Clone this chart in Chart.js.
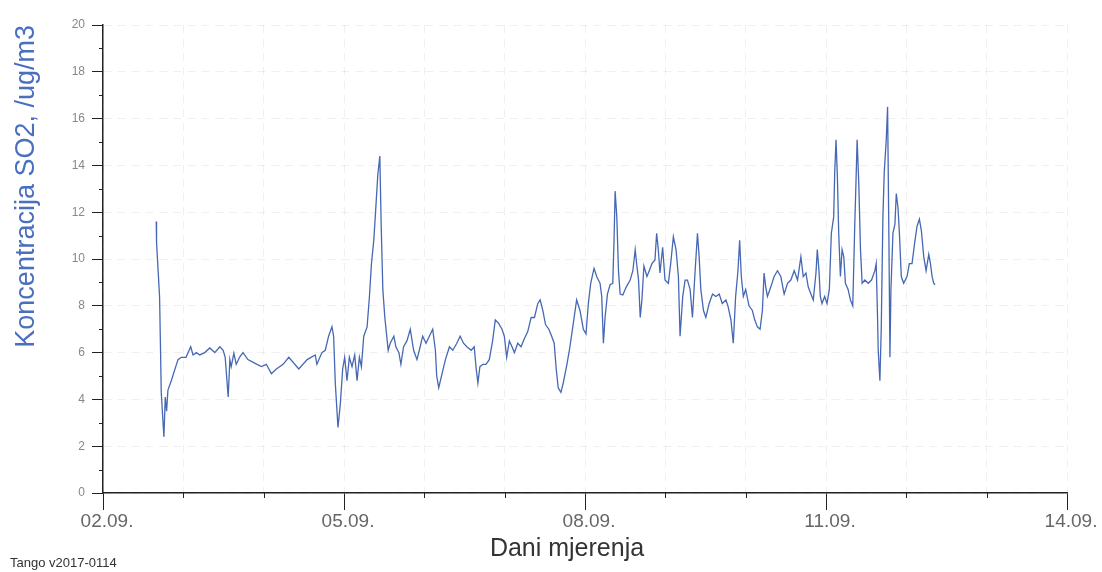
<!DOCTYPE html>
<html>
<head>
<meta charset="utf-8">
<script src="https://cdn.jsdelivr.net/npm/chart.js@4.4.1/dist/chart.umd.min.js"></script>
<style>
  html, body { margin: 0; padding: 0; background: #fff; }
  #wrap { position: relative; width: 1102px; height: 572px; }
  #tango { position: absolute; left: 10px; top: 555px; font: 13px 'Liberation Sans', Arial, sans-serif; color: #333; }
</style>
</head>
<body>
<div id="wrap">
  <canvas id="c" width="1102" height="572"></canvas>
  <div id="tango">Tango v2017-0114</div>
</div>
<script>
// Koncentracija SO2 (µg/m3), satni niz — vrijeme u satima od 02.09. 00:00
const hours = [
  15.9,16.0,16.9,17.2,17.4,17.9,18.2,18.6,19.0,19.4,20.4,22.4,23.4,24.8,26.2,26.9,27.9,28.9,30.4,31.9,
  33.4,34.9,35.9,36.5,37.4,37.9,38.3,39.1,39.8,40.8,41.8,43.3,45.3,47.3,48.8,50.3,51.8,53.8,
  55.5,58.5,61.0,63.4,63.9,65.4,66.4,67.4,68.4,68.9,69.4,70.2,70.9,71.6,72.2,72.9,73.6,74.4,75.2,75.9,
  76.6,77.2,77.9,78.9,79.6,80.2,80.9,81.4,82.1,82.7,83.1,83.6,84.2,85.2,85.8,86.9,87.5,88.4,89.0,89.8,
  90.8,91.8,92.8,93.8,
  94.5,95.5,96.5,97.5,98.5,99.3,99.7,100.3,101.3,102.3,103.5,104.5,105.7,106.7,107.7,108.7,110.0,110.9,
  111.5,112.0,112.6,113.5,114.4,115.4,116.4,117.2,118.2,119.2,119.9,120.6,121.4,122.2,122.9,123.9,124.9,
  125.9,126.9,127.9,128.9,129.9,130.6,131.4,132.2,133.2,133.9,
  134.8,135.4,136.0,136.8,137.5,138.6,139.5,140.5,141.5,142.5,143.5,144.3,145.0,145.7,146.7,147.5,148.5,
  149.0,149.5,150.0,150.7,151.5,152.3,152.7,153.0,153.5,154.0,154.5,155.3,156.3,157.5,158.3,159.0,159.5,
  160.0,160.5,161.0,161.6,162.5,163.2,164.0,164.9,165.4,165.9,166.4,167.2,167.9,168.9,169.6,170.4,171.2,
  171.9,172.4,173.2,173.9,
  174.6,175.4,176.1,176.8,177.6,178.1,178.6,179.4,180.1,181.1,182.1,183.1,184.1,185.0,186.1,186.7,187.6,
  188.3,189.0,189.7,190.2,190.7,191.3,192.0,193.0,194.0,194.7,195.5,196.3,197.0,197.5,198.0,198.5,199.5,
  200.5,201.5,202.5,203.5,204.5,205.5,206.5,207.5,208.5,209.2,210.0,210.7,211.5,212.2,213.0,213.4,213.9,
  214.3,214.8,215.6,216.3,217.0,217.6,218.3,218.6,219.0,219.4,219.8,220.3,220.8,221.3,221.8,222.6,223.3,
  224.0,224.6,225.0,225.3,225.8,226.3,226.8,227.6,228.6,229.6,230.6,231.0,231.4,231.6,232.1,232.5,233.0,
  233.4,234.0,234.4,234.8,235.1,235.4,236.0,236.6,237.0,237.5,237.9,238.5,239.2,240.2,240.9,241.7,242.5,
  243.2,243.9,244.5,245.2,245.9,246.7,247.2,247.7,248.2,248.6
];
const so2 = [
  11.6,10.7,8.4,6.0,4.3,3.1,2.4,4.1,3.5,4.4,4.8,5.7,5.8,5.8,6.25,5.9,6.0,5.9,6.0,6.2,
  6.0,6.25,6.1,5.8,4.1,5.7,5.4,5.97,5.5,5.8,6.0,5.7,5.55,5.4,5.5,5.1,5.3,5.5,
  5.8,5.3,5.7,5.9,5.5,6.0,6.1,6.7,7.1,6.7,4.7,2.8,3.8,5.3,5.8,4.8,5.8,5.4,5.9,4.8,
  5.8,5.4,6.7,7.1,8.4,9.8,10.8,11.95,13.6,14.4,11.5,8.7,7.5,6.1,6.4,6.7,6.25,6.0,5.5,6.25,
  6.5,7.0,6.1,5.7,
  6.1,6.7,6.4,6.7,7.0,6.1,5.0,4.5,5.1,5.7,6.25,6.1,6.4,6.7,6.4,6.25,6.1,6.25,
  5.3,4.7,5.4,5.5,5.5,5.7,6.5,7.4,7.25,7.0,6.7,5.8,6.5,6.25,6.0,6.4,6.25,
  6.6,6.9,7.5,7.5,8.1,8.25,7.8,7.2,7.0,6.75,
  6.4,5.3,4.5,4.3,4.7,5.5,6.25,7.25,8.25,7.8,7.0,6.8,8.1,8.96,9.6,9.25,8.96,
  8.4,6.4,7.5,8.5,8.9,8.96,10.95,12.9,11.8,9.5,8.5,8.46,8.8,9.1,9.5,10.4,9.7,
  9.1,7.5,8.25,9.7,9.25,9.5,9.8,9.96,11.1,10.4,9.4,10.5,9.1,8.96,9.8,10.95,10.4,
  9.25,6.7,8.4,9.1,
  9.1,8.7,7.5,9.25,11.1,10.1,8.7,7.8,7.5,8.1,8.5,8.4,8.5,8.1,8.25,8.0,7.4,
  6.4,8.4,9.5,10.8,9.25,8.4,8.7,8.0,7.8,7.4,7.1,7.0,7.8,9.4,8.8,8.4,8.8,
  9.25,9.5,9.25,8.5,8.96,9.1,9.5,9.1,10.1,9.25,9.4,8.8,8.5,8.25,9.4,10.4,9.5,
  8.4,8.1,8.4,8.1,8.7,11.1,11.8,13.7,15.1,13.5,11.1,9.25,10.4,10.1,8.96,8.7,8.25,
  8.0,11.5,13.5,15.1,13.2,10.4,8.96,9.1,8.96,9.1,9.5,9.8,7.5,6.1,4.8,7.0,11.8,
  13.7,15.1,16.5,10.8,5.8,8.7,11.1,11.5,12.8,12.2,11.2,9.25,8.96,9.25,9.8,9.8,10.7,
  11.4,11.7,11.2,10.1,9.5,10.2,9.8,9.25,8.96,8.9
];

// Os X: dani (svakih 24 h), natpis svaki treći dan
const dayTicks = [0, 24, 48, 72, 96, 120, 144, 168, 192, 216, 240, 264, 288];
const labelTicks = [0, 72, 144, 216, 288];
const dayLabels = ['02.09.', '05.09.', '08.09.', '11.09.', '14.09.'];
// Os Y: glavne oznake svake 2 jedinice, sporedne na neparnim vrijednostima
const yMinorTicks = [1, 3, 5, 7, 9, 11, 13, 15, 17, 19];

const FONT = "'Liberation Sans', Arial, sans-serif";
const AXIS = '#222';
const GRID = 'rgba(0,0,0,0.06)';

Chart.defaults.font.family = FONT;

// sporedne oznake na osima + naslov osi X
const extras = {
  id: 'extras',
  afterDraw(chart) {
    const { ctx, scales: { x, y } } = chart;
    ctx.save();
    ctx.strokeStyle = AXIS;
    ctx.lineWidth = 1;
    yMinorTicks.forEach((v) => {
      const py = Math.round(y.getPixelForValue(v)) + 0.5;
      ctx.beginPath(); ctx.moveTo(x.left - 4, py); ctx.lineTo(x.left, py); ctx.stroke();
    });
    dayTicks.filter((d) => !labelTicks.includes(d)).forEach((d) => {
      const px = Math.round(x.getPixelForValue(d)) + 0.5;
      ctx.beginPath(); ctx.moveTo(px, y.bottom); ctx.lineTo(px, y.bottom + 5); ctx.stroke();
    });
    ctx.fillStyle = '#333';
    ctx.font = '25px ' + FONT;
    ctx.textAlign = 'center';
    ctx.textBaseline = 'middle';
    ctx.fillText('Dani mjerenja', (x.left + x.right) / 2 - 18, 549);
    ctx.restore();
  },
};

new Chart(document.getElementById('c'), {
  type: 'line',
  data: {
    datasets: [{
      data: hours.map((h, i) => ({ x: h, y: so2[i] })),
      borderColor: '#4668b4',
      borderWidth: 1.3,
      pointRadius: 0,
      tension: 0,
      fill: false,
    }],
  },
  options: {
    responsive: false,
    animation: false,
    devicePixelRatio: 1,
    layout: { padding: { left: 0, top: 25, right: 35, bottom: 0 } },
    plugins: { legend: { display: false }, tooltip: { enabled: false } },
    scales: {
      x: {
        type: 'linear', min: 0, max: 288,
        afterFit: (s) => { s.height = 79; },
        afterBuildTicks: (s) => { s.ticks = dayTicks.map((v) => ({ value: v })); },
        ticks: {
          autoSkip: false, maxRotation: 0, padding: 0, labelOffset: 4,
          color: '#666', font: { size: 19 },
          callback: (v) => { const i = labelTicks.indexOf(v); return i >= 0 ? dayLabels[i] : ''; },
        },
        grid: {
          color: GRID, tickLength: 17, tickWidth: 1,
          tickColor: (c) => (c.tick && labelTicks.includes(c.tick.value) ? AXIS : 'rgba(0,0,0,0)'),
        },
        border: { display: true, color: AXIS, width: 1.5, dash: [8, 6] },
      },
      y: {
        min: 0, max: 20,
        afterFit: (s) => { s.width = 103; },
        ticks: { stepSize: 2, color: '#888', font: { size: 12 }, padding: 7 },
        grid: { color: GRID, tickColor: AXIS, tickLength: 11, tickWidth: 1 },
        border: { display: true, color: AXIS, width: 1.5, dash: [8, 6] },
        title: {
          display: true, text: 'Koncentracija SO2, /ug/m3', color: '#4a6fbf',
          font: { size: 27 }, align: 'end', padding: { top: 10, bottom: 0 },
        },
      },
    },
  },
  plugins: [extras],
});
</script>
</body>
</html>
